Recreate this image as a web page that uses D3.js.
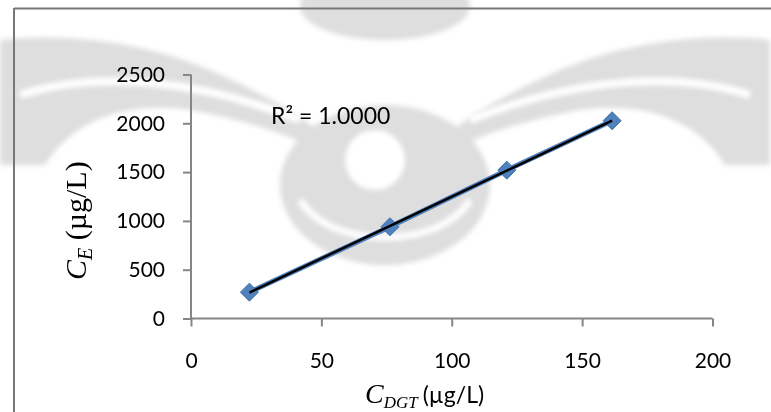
<!DOCTYPE html>
<html>
<head>
<meta charset="utf-8">
<script src="https://cdn.jsdelivr.net/npm/d3@7"></script>
<style>
  body { margin: 0; background: #fff; }
  svg { display: block; }
</style>
</head>
<body>
<div id="chart"></div>
<script>
// data
var cdgt = [22.4, 76.3, 121.1, 161.5];   // C_DGT (µg/L)
var ce   = [270, 940, 1520, 2026];       // C_E (µg/L)
var xTicks = [0, 50, 100, 150, 200];
var yTicks = [0, 500, 1000, 1500, 2000, 2500];
var r2Label = "R\u00B2 = 1.0000";

var W = 771, H = 412;
var svg = d3.select("#chart").append("svg")
    .attr("width", W)
    .attr("height", H);

// faint watermark behind the chart (decoration only)
function drawWatermark() {
	svg.append("defs").append("filter").attr("id", "soft")
	    .append("feGaussianBlur").attr("stdDeviation", 2.5);
	var g = svg.append("g").attr("fill", "#dedede").attr("filter", "url(#soft)");
	var wingL = "M0,40 C70,32 150,44 210,70 C260,92 300,114 330,140 L335,158 C295,136 245,120 190,110 C120,100 70,124 45,165 L0,165 Z";
	g.append("path").attr("d", wingL);
	g.append("path").attr("d", wingL).attr("transform", "translate(770,0) scale(-1,1)");
	g.append("ellipse").attr("cx", 385).attr("cy", 6).attr("rx", 85).attr("ry", 34);
	g.append("ellipse").attr("cx", 385).attr("cy", 185).attr("rx", 105).attr("ry", 80);
	// white streaks cutting through the pattern
	var w = svg.append("g").attr("fill", "none").attr("stroke", "#fff").attr("filter", "url(#soft)");
	w.append("circle").attr("cx", 375).attr("cy", 160).attr("r", 30).attr("fill", "#fff").attr("stroke", "none");
	w.append("path").attr("d", "M20,95 C100,70 200,80 300,120").attr("stroke-width", 8);
	w.append("path").attr("d", "M750,95 C670,70 570,80 470,120").attr("stroke-width", 8);
	w.append("path").attr("d", "M300,200 C330,250 440,250 470,200").attr("stroke-width", 7);
}
drawWatermark();

// frame lines
svg.append("line").attr("x1", 14).attr("y1", 8.5).attr("x2", W).attr("y2", 8.5)
    .attr("stroke", "#777").attr("stroke-width", 2);
svg.append("line").attr("x1", 14).attr("y1", 8).attr("x2", 14).attr("y2", H)
    .attr("stroke", "#777").attr("stroke-width", 2);

var x = d3.scaleLinear().domain([0, 200]).range([191, 712.5]);
var y = d3.scaleLinear().domain([0, 2500]).range([318.5, 74.5]);

var axisColor = "#868686";
var tickFont = "Lato, 'Open Sans', sans-serif";

// y axis
var yAxis = svg.append("g")
    .attr("transform", "translate(" + x(0) + ",0)")
    .call(d3.axisLeft(y).tickValues(yTicks).tickSize(8).tickPadding(18).tickFormat(d3.format("d")));
// x axis
var xAxis = svg.append("g")
    .attr("transform", "translate(0," + y(0) + ")")
    .call(d3.axisBottom(x).tickValues(xTicks).tickSize(8).tickPadding(28).tickFormat(d3.format("d")));

[xAxis, yAxis].forEach(function(a) {
	a.select(".domain").attr("stroke", axisColor).attr("stroke-width", 2)
	 .attr("d", a === xAxis ? "M" + x(0) + ",0H" + x(200) : "M0," + y(0) + "V" + y(2500));
	a.selectAll(".tick line").attr("stroke", axisColor).attr("stroke-width", 2);
	a.selectAll(".tick text")
	 .attr("fill", "#000")
	 .style("font-family", tickFont)
	 .style("font-size", "21px");
});
xAxis.selectAll(".tick text").attr("dy", "0.71em").attr("y", 35);

// series line
var pts = cdgt.map(function(d, i) { return [d, ce[i]]; });
var line = d3.line().x(function(d) { return x(d[0]); }).y(function(d) { return y(d[1]); });
svg.append("path").datum(pts)
    .attr("d", line)
    .attr("fill", "none")
    .attr("stroke", "#4F81BD")
    .attr("stroke-width", 5);

// markers
svg.selectAll(".pt").data(pts).enter().append("path")
    .attr("class", "pt")
    .attr("transform", function(d) { return "translate(" + x(d[0]) + "," + y(d[1]) + ")"; })
    .attr("d", "M0,-9L9,0L0,9L-9,0Z")
    .attr("fill", "#4F81BD")
    .attr("stroke", "#3d6ea6")
    .attr("stroke-width", 1);

// linear trendline (least squares)
var mx = d3.mean(cdgt), my = d3.mean(ce);
var sxy = d3.sum(cdgt, function(d, i) { return (d - mx) * (ce[i] - my); });
var sxx = d3.sum(cdgt, function(d) { return (d - mx) * (d - mx); });
var slope = sxy / sxx, icpt = my - slope * mx;
var xr = d3.extent(cdgt);
svg.append("path")
    .datum(xr.map(function(v) { return [v, icpt + slope * v]; }))
    .attr("d", line)
    .attr("fill", "none")
    .attr("stroke", "#000")
    .attr("stroke-width", 2.5);

// R² label
svg.append("text")
    .attr("x", 271).attr("y", 124)
    .style("font-family", tickFont)
    .style("font-size", "23px")
    .text(r2Label);

// x axis title (kept just inside the bottom edge)
var xt = svg.append("text").attr("x", 365).attr("y", 403);
xt.append("tspan").style("font-family", "'Liberation Serif', serif").style("font-style", "italic")
    .style("font-size", "28px").text("C");
xt.append("tspan").style("font-family", "'Liberation Serif', serif").style("font-style", "italic")
    .style("font-size", "17px").attr("dy", 5).text("DGT");
xt.append("tspan").style("font-family", tickFont).style("font-size", "23px")
    .attr("dy", -5).attr("dx", 5).text("(\u00B5g/L)");

// y axis title
var yt = svg.append("text")
    .attr("transform", "translate(86,280) rotate(-90)")
    .style("font-family", "'Liberation Serif', serif")
    .style("font-size", "30px");
yt.append("tspan").style("font-style", "italic").text("C");
yt.append("tspan").style("font-style", "italic").style("font-size", "20px").attr("dy", 6).text("E");
yt.append("tspan").attr("dy", -6).text(" (\u00B5g/L)");
</script>
</body>
</html>
